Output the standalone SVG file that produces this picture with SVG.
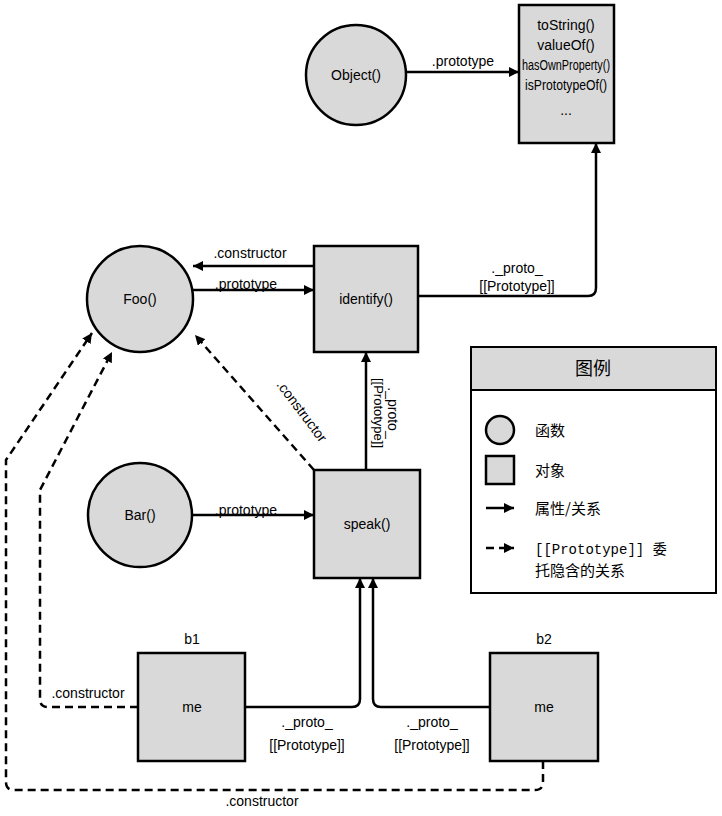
<svg xmlns="http://www.w3.org/2000/svg" width="722" height="816" viewBox="0 0 722 816">
<defs>
<marker id="ah" viewBox="0 0 10 10" refX="10" refY="5" markerWidth="10" markerHeight="10" markerUnits="userSpaceOnUse" orient="auto"><path d="M0,0 L10,5 L0,10 z" fill="#000"/></marker>
<style>
.n{fill:#d9d9d9;stroke:#000;stroke-width:2.5}
.t{font-family:"Liberation Sans",sans-serif;font-size:14px;fill:#000}
.s{font-size:14px}
.c{text-anchor:middle}
.l{fill:none;stroke:#000;stroke-width:2.5;marker-end:url(#ah)}
.d{stroke-dasharray:8,5}
</style>
</defs>
<rect width="722" height="816" fill="#fff"/>
<g id="connectors">
<path class="l" d="M406,72 L519,72"/>
<path class="l" d="M314,266 L193,266"/>
<path class="l" d="M193,290 L314,290"/>
<path class="l" d="M418,296 L588,296 Q596,296 596,288 L596,143"/>
<path class="l" d="M366,470 L366,352"/>
<path class="l d" d="M314,470 L195,335"/>
<path class="l" d="M192,515 L314,515"/>
<path class="l" d="M245,707 L352,707 Q360,707 360,699 L360,578"/>
<path class="l" d="M490,707 L381,707 Q373,707 373,699 L373,578"/>
<path class="l d" d="M138,707 L48,707 Q40,707 40,699 L40,490 L112,352"/>
<path class="l d" d="M543,761 L543,782 Q543,790 535,790 L14,790 Q6,790 6,782 L6,460 L92,333"/>
</g>
<g class="t">
<text x="463" y="66" class="c">.prototype</text>
<text x="250" y="258" class="c">.constructor</text>
<text x="246" y="289" class="c">.prototype</text>
<text x="517" y="273" class="c">._proto_</text>
<text x="517" y="291" class="c">[[Prototype]]</text>
<text x="246" y="515" class="c">.prototype</text>
<text transform="translate(298,414) rotate(53)" class="c">.constructor</text>
<text transform="translate(388,413) rotate(90)" class="c">._proto_</text>
<text transform="translate(374,413) rotate(90)" class="c" style="font-size:13px">[[Prototype]]</text>
<text x="88" y="698" class="c">.constructor</text>
<text x="307" y="727" class="c">._proto_</text>
<text x="307" y="750" class="c">[[Prototype]]</text>
<text x="432" y="727" class="c">._proto_</text>
<text x="432" y="750" class="c">[[Prototype]]</text>
<text x="262" y="806" class="c">.constructor</text>
</g>
<g id="object"><circle class="n" cx="356" cy="75" r="50"/><text class="t c" x="356" y="80">Object()</text></g>
<g id="objproto"><rect class="n" x="519" y="5" width="95" height="138"/>
<text class="t c s" x="566" y="30">toString()</text><text class="t c s" x="566" y="50">valueOf()</text><text class="t c s" x="566" y="70" textLength="88" lengthAdjust="spacingAndGlyphs">hasOwnProperty()</text><text class="t c s" x="566" y="90" textLength="82" lengthAdjust="spacingAndGlyphs">isPrototypeOf()</text><text class="t c s" x="566" y="115">...</text></g>
<g id="foo"><circle class="n" cx="140" cy="299" r="53"/><text class="t c" x="140" y="304">Foo()</text></g>
<g id="identify"><rect class="n" x="314" y="246" width="104" height="106"/><text class="t c" x="366" y="304">identify()</text></g>
<g id="bar"><circle class="n" cx="140" cy="515" r="52"/><text class="t c" x="140" y="520">Bar()</text></g>
<g id="speak"><rect class="n" x="314" y="470" width="106" height="108"/><text class="t c" x="367" y="529">speak()</text></g>
<g id="b1"><text class="t c" x="192" y="644">b1</text><rect class="n" x="138" y="653" width="107" height="108"/><text class="t c" x="192" y="712">me</text></g>
<g id="b2"><text class="t c" x="544" y="644">b2</text><rect class="n" x="490" y="653" width="108" height="108"/><text class="t c" x="544" y="712">me</text></g>
<g id="legend">
<rect x="471" y="347" width="245" height="246" fill="#fff" stroke="#000" stroke-width="2"/>
<rect x="471" y="347" width="245" height="43" fill="#d9d9d9" stroke="#000" stroke-width="2"/>
<text x="593" y="375" class="c" style="font-family:'Noto Sans CJK SC',sans-serif;font-size:18px">图例</text>
<circle class="n" cx="500" cy="430" r="14" stroke-width="2"/>
<text x="535" y="436" style="font-family:'Noto Sans CJK SC',sans-serif;font-size:15px">函数</text>
<rect class="n" x="486" y="456" width="28" height="28" stroke-width="2"/>
<text x="535" y="476" style="font-family:'Noto Sans CJK SC',sans-serif;font-size:15px">对象</text>
<path class="l" d="M486,508 L514,508"/>
<text x="535" y="514" style="font-family:'Noto Sans CJK SC',sans-serif;font-size:15px">属性/关系</text>
<path class="l d" d="M486,548 L514,548"/>
<text x="535" y="554" style="font-family:'Liberation Mono','Noto Sans CJK SC',monospace;font-size:14px">[[Prototype]] <tspan style="font-family:'Noto Sans CJK SC',sans-serif">委</tspan></text>
<text x="535" y="576" style="font-family:'Noto Sans CJK SC',sans-serif;font-size:15px">托隐含的关系</text>
</g>
</svg>
